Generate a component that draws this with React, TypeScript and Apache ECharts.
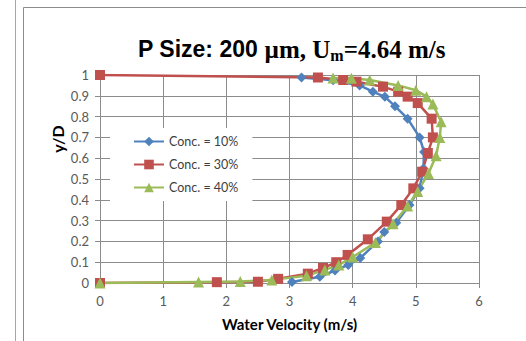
import React, { useEffect, useRef } from 'react';
import * as echarts from 'echarts';

const seriesNames = ['Conc. = 10%', 'Conc. = 30%', 'Conc. = 40%'];
const xTicks = [0, 1, 2, 3, 4, 5, 6];

// Water velocity (m/s), y/D
const conc10Velocity = [3.04, 3.48, 3.72, 3.93, 4.12, 4.40, 4.50, 4.69, 4.90, 5.06, 5.12, 5.13, 5.06, 4.87, 4.67, 4.51, 4.32, 4.11, 3.69, 3.19];
const conc10YD = [0.005, 0.03, 0.06, 0.087, 0.12, 0.20, 0.245, 0.29, 0.375, 0.455, 0.55, 0.63, 0.70, 0.79, 0.85, 0.895, 0.92, 0.95, 0.975, 0.988];

const conc30Velocity = [0, 1.85, 2.50, 2.82, 3.29, 3.53, 3.74, 3.92, 4.24, 4.54, 4.77, 4.96, 5.10, 5.19, 5.27, 5.25, 5.03, 4.87, 4.72, 4.48, 4.06, 3.85, 3.45, 0];
const conc30YD = [0, 0.004, 0.006, 0.02, 0.045, 0.072, 0.10, 0.135, 0.21, 0.295, 0.375, 0.455, 0.535, 0.625, 0.70, 0.79, 0.865, 0.896, 0.92, 0.944, 0.968, 0.976, 0.988, 1];

const conc40Velocity = [0, 1.56, 2.22, 2.72, 3.27, 3.56, 3.78, 4.00, 4.36, 4.64, 4.87, 5.03, 5.20, 5.32, 5.38, 5.40, 5.27, 5.17, 5.00, 4.72, 4.27, 3.98, 3.69];
const conc40YD = [0, 0.005, 0.007, 0.015, 0.035, 0.063, 0.087, 0.125, 0.195, 0.285, 0.37, 0.44, 0.527, 0.612, 0.70, 0.775, 0.86, 0.896, 0.927, 0.95, 0.976, 0.984, 0.986];

const colors = ['#4F81BD', '#C0504D', '#9BBB59'];
const symbols = ['diamond', 'rect', 'triangle'];
const symbolSizes = [10, 10, 11];

const pairs = (xs: number[], ys: number[]) => xs.map((x, i) => [x, ys[i]]);

export default function App() {
  const ref = useRef<HTMLDivElement>(null);
  useEffect(() => {
    const chart = echarts.init(ref.current!, null, { renderer: 'svg' });
    const data = [
      pairs(conc10Velocity, conc10YD),
      pairs(conc30Velocity, conc30YD),
      pairs(conc40Velocity, conc40YD),
    ];
    const gridColor = '#8c8c8c';
    chart.setOption({
      animation: false,
      backgroundColor: '#ffffff',
      title: {
        left: 133,
        top: 30,
        text: '{a|P Size: 200 }{b|\u00b5m, U}{s|m}{b|=4.64 m/s}',
        textStyle: {
          rich: {
            a: { fontFamily: 'Liberation Sans', fontWeight: 'bold', fontSize: 23, color: '#000', lineHeight: 28 },
            b: { fontFamily: 'Liberation Serif', fontWeight: 'bold', fontSize: 25, color: '#000', lineHeight: 28 },
            s: { fontFamily: 'Liberation Serif', fontWeight: 'bold', fontSize: 16, color: '#000', lineHeight: 28, verticalAlign: 'bottom', padding: [10, 0, 0, 0] },
          },
        },
      },
      graphic: [
        { type: 'line', shape: { x1: 15.5, y1: 0, x2: 15.5, y2: 341 }, style: { stroke: '#a6a6a6', lineWidth: 1 } },
        { type: 'line', shape: { x1: 23.5, y1: 7.5, x2: 23.5, y2: 341 }, style: { stroke: '#8c8c8c', lineWidth: 1 } },
        { type: 'line', shape: { x1: 23.5, y1: 7.5, x2: 526, y2: 7.5 }, style: { stroke: '#8c8c8c', lineWidth: 1 } },
        {
          type: 'text', x: 57, y: 139, rotation: Math.PI / 2,
          style: { text: 'y/D', font: 'bold 16px Lato', fill: '#000', align: 'center', verticalAlign: 'middle' },
        },
      ],
      grid: { left: 100, right: 47, top: 75, bottom: 58, containLabel: false },
      legend: {
        orient: 'vertical',
        left: 110,
        top: 128,
        padding: [7, 14, 7, 23],
        backgroundColor: '#ffffff',
        itemWidth: 30,
        itemHeight: 12,
        itemGap: 10,
        data: seriesNames,
        textStyle: { fontFamily: 'Lato', fontSize: 12.5, color: '#404040' },
      },
      xAxis: {
        type: 'value',
        min: 0,
        max: 6,
        interval: 1,
        name: 'Water Velocity (m/s)',
        nameLocation: 'middle',
        nameGap: 33,
        nameTextStyle: { fontFamily: 'Lato', fontWeight: 'bold', fontSize: 15, color: '#000' },
        axisLine: { show: true, onZero: false, lineStyle: { color: gridColor, width: 1 } },
        axisTick: { show: true, length: 5, lineStyle: { color: gridColor } },
        axisLabel: { margin: 11, fontFamily: 'Lato', fontSize: 13, color: '#595959', formatter: (v: number) => (xTicks.includes(v) ? String(v) : '') },
        splitLine: { show: true, lineStyle: { color: gridColor, width: 1 } },
      },
      yAxis: {
        type: 'value',
        min: 0,
        max: 1,
        interval: 0.1,
        axisLine: { show: true, onZero: false, lineStyle: { color: gridColor, width: 1 } },
        axisTick: { show: true, length: 5, lineStyle: { color: gridColor } },
        axisLabel: { margin: 11, fontFamily: 'Lato', fontSize: 13, color: '#595959', formatter: (v: number) => String(Math.round(v * 10) / 10) },
        splitLine: { show: true, lineStyle: { color: gridColor, width: 1 } },
      },
      series: seriesNames.map((name, i) => ({
        name,
        type: 'line',
        data: data[i],
        smooth: false,
        symbol: symbols[i],
        symbolSize: symbolSizes[i],
        showAllSymbol: true,
        lineStyle: { color: colors[i], width: 2.5 },
        itemStyle: { color: colors[i], borderWidth: 0 },
        emphasis: { disabled: true },
      })),
    });
    return () => chart.dispose();
  }, []);
  return <div ref={ref} style={{ position: 'fixed', left: 0, top: 0, width: 526, height: 341 }} />;
}
